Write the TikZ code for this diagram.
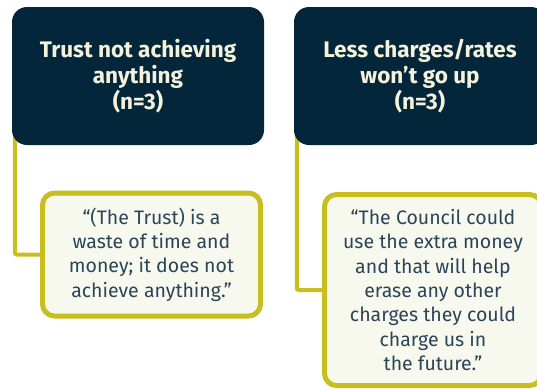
\documentclass[tikz,border=0pt]{standalone}
\usepackage{fontspec}
\setmainfont{Fira Sans}
\usetikzlibrary{backgrounds}
\definecolor{navy}{HTML}{03263B}
\definecolor{olive}{HTML}{C8BE1E}
\definecolor{quotefill}{HTML}{F7F9EE}
\definecolor{quotetext}{HTML}{2A4458}
\definecolor{headtext}{HTML}{F5F2DC}
\tikzset{
  headbox/.style={fill=navy, rounded corners=15pt, minimum width=252pt, minimum height=138pt,
    inner sep=0pt, align=center, text=headtext,
    font=\fontsize{22.5}{26}\selectfont\bfseries},
  quotebox/.style={fill=quotefill, draw=olive, line width=5pt, rounded corners=12pt,
    inner sep=0pt, align=center, text=quotetext,
    font=\fontsize{19.5}{24.3}\selectfont},
  conn/.style={draw=olive, line width=4pt, rounded corners=2pt}
}
\begin{document}
\begin{tikzpicture}[x=1pt,y=-1pt]
\useasboundingbox (0,0) rectangle (537,389);
\begin{scope}
\clip (0,0) rectangle (537,389);
\node[headbox] (h1) at (138,76) {Trust not achieving\\anything\\(n=3)};
\node[headbox] (h2) at (420,76) {Less charges/rates\\won’t go up\\(n=3)};
\node[quotebox, minimum width=218pt, minimum height=123pt] (q1) at (151.5,254.5)
  {“(The Trust) is a\\waste of time and\\money; it does not\\achieve anything.”};
\node[quotebox, minimum width=217pt, minimum height=191pt] (q2) at (433,290)
  {“The Council could\\use the extra money\\and that will help\\erase any other\\charges they could\\charge us in\\the future.”};
\begin{scope}[on background layer]
\draw[conn] ([xshift=3pt,yshift=15pt]h1.south west) |- (q1.west);
\draw[conn] ([xshift=3pt,yshift=15pt]h2.south west) |- (q2.west);
\end{scope}
\end{scope}
\end{tikzpicture}
\end{document}
